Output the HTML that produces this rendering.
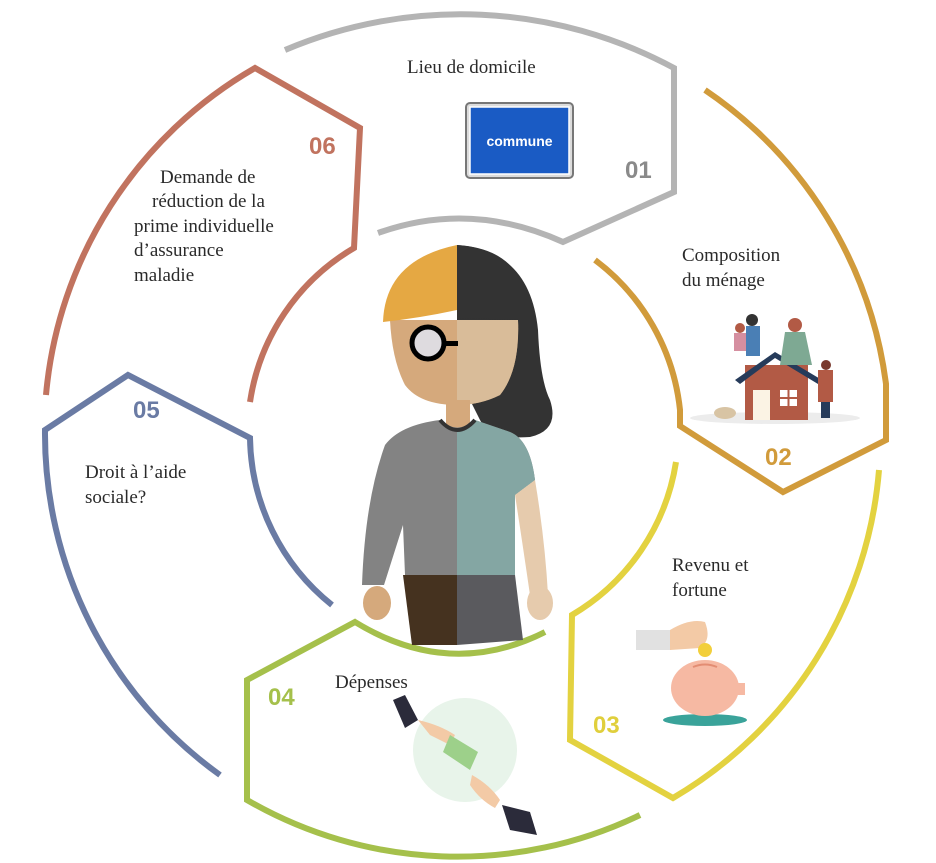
<!DOCTYPE html>
<html><head><meta charset="utf-8"><style>
html,body{margin:0;padding:0;background:#fff;}
svg{display:block;}
.t{font-family:"Liberation Serif",serif;font-size:19px;fill:#2a2a2a;}
.n{font-family:"Liberation Sans","DejaVu Sans",sans-serif;font-size:24px;font-weight:bold;}
</style></head><body>
<svg width="936" height="863" viewBox="0 0 936 863" xmlns="http://www.w3.org/2000/svg">
<g fill="none" stroke-width="6" stroke-linejoin="miter">
<path d="M285 50 A450 450 0 0 1 674 68 L674 192 L563 242 Q470 200 378 233" stroke="#b4b4b4"/>
<path d="M705 90 A420 420 0 0 1 886 384 L886 440 L783 492 L680 426 L680 410 A216 216 0 0 0 595 260" stroke="#d19b3b"/>
<path d="M879 470 A420 420 0 0 1 673 798 L570 740 L572 615 A216 216 0 0 0 676 462" stroke="#e3d240"/>
<path d="M640 815 A420 420 0 0 1 247 800 L247 680 L355 622 Q450 680 545 632" stroke="#a5c04b"/>
<path d="M220 775 A420 420 0 0 1 45 430 L128 375 L250 438 A218 218 0 0 0 332 605" stroke="#6a7ba4"/>
<path d="M46 395 A420 420 0 0 1 255 68 L360 128 L354 248 A215 215 0 0 0 250 402" stroke="#c1735f"/>
</g>

<text class="t" x="407" y="73">Lieu de domicile</text>
<text class="t" x="682" y="261">Composition</text>
<text class="t" x="682" y="286">du ménage</text>
<text class="t" x="672" y="571">Revenu et</text>
<text class="t" x="672" y="596">fortune</text>
<text class="t" x="335" y="688">Dépenses</text>
<text class="t" x="85" y="478">Droit à l’aide</text>
<text class="t" x="85" y="503">sociale?</text>
<text class="t" x="160" y="183">Demande de</text>
<text class="t" x="152" y="207">réduction de la</text>
<text class="t" x="134" y="232">prime individuelle</text>
<text class="t" x="134" y="256">d’assurance</text>
<text class="t" x="134" y="281">maladie</text>

<text class="n" x="625" y="178" fill="#8a8a8a">01</text>
<text class="n" x="765" y="465" fill="#d19b3b">02</text>
<text class="n" x="593" y="733" fill="#e0cf3c">03</text>
<text class="n" x="268" y="705" fill="#a5c04b">04</text>
<text class="n" x="133" y="418" fill="#6a7ba4">05</text>
<text class="n" x="309" y="154" fill="#c1735f">06</text>

<rect x="466" y="103" width="107" height="75" rx="4" fill="#dcdcdc" stroke="#777" stroke-width="2"/>
<rect x="470" y="107" width="99" height="67" fill="#1a5bc4" stroke="#fff" stroke-width="1.5"/>
<text x="519.5" y="146" text-anchor="middle" font-family="Liberation Sans,sans-serif" font-weight="bold" font-size="14" fill="#fff">commune</text>

<path d="M457 245 Q530 250 538 330 Q540 380 550 400 Q560 430 530 437 Q490 440 480 420 L470 400 L457 400 Z" fill="#333"/>
<path d="M390 320 L518 320 Q520 370 500 395 Q480 405 457 405 Q420 405 405 385 Q392 360 390 320 Z" fill="#d5a97c"/>
<path d="M457 320 L518 320 Q520 370 500 395 Q480 405 457 405 Z" fill="#d9bc99"/>
<path d="M457 245 L457 310 Q420 318 383 322 Q385 260 457 245 Z" fill="#e5a843"/>
<path d="M457 245 Q505 248 520 280 L520 320 L457 318 Z" fill="#333"/>
<circle cx="428" cy="343" r="16" fill="#dedbdf" stroke="#000" stroke-width="5"/>
<rect x="444" y="341" width="14" height="5" fill="#000"/>
<rect x="446" y="400" width="24" height="28" fill="#d5a97c"/>
<path d="M440 420 Q457 435 475 420 L510 432 Q530 440 535 480 L515 495 L515 575 L405 575 L403 525 L384 585 L362 585 Q365 500 385 445 Q400 425 440 420 Z" fill="#838383"/>
<path d="M457 428 Q470 428 475 420 L510 432 Q530 440 535 480 L515 495 L515 575 L457 575 Z" fill="#84a6a3"/>
<path d="M440 420 Q457 440 475 420" fill="none" stroke="#333" stroke-width="4"/>
<path d="M515 495 L535 480 Q545 540 548 595 L530 595 Q522 540 515 495 Z" fill="#e6cbad"/>
<ellipse cx="377" cy="603" rx="14" ry="17" fill="#d5a97c"/>
<ellipse cx="540" cy="603" rx="13" ry="17" fill="#e6cbad"/>
<path d="M403 575 L457 575 L457 645 L412 645 Z" fill="#45321f"/>
<path d="M457 575 L515 575 L523 640 L457 645 Z" fill="#5a5a5e"/>

<ellipse cx="775" cy="418" rx="85" ry="6" fill="#ececec"/>
<rect x="745" y="365" width="63" height="55" fill="#b25a45"/>
<polygon points="735,380 775,352 822,380 818,384 775,358 740,384" fill="#263b5a"/>
<rect x="753" y="390" width="17" height="30" fill="#fbf3e4"/>
<rect x="780" y="390" width="17" height="16" fill="#fff"/>
<path d="M788.5 390 V406 M780 398 H797" stroke="#b25a45" stroke-width="2"/>
<circle cx="740" cy="328" r="5" fill="#b25a45"/><rect x="734" y="333" width="14" height="18" fill="#d58fa0"/>
<circle cx="752" cy="320" r="6" fill="#333"/><rect x="746" y="326" width="14" height="30" fill="#4a7fb5"/>
<circle cx="795" cy="325" r="7" fill="#b25a45"/><path d="M785 332 L805 332 L812 365 L780 365 Z" fill="#7ea993"/>
<circle cx="826" cy="365" r="5" fill="#7a3a2e"/><rect x="818" y="370" width="15" height="32" fill="#b25a45"/><rect x="821" y="402" width="9" height="16" fill="#263b5a"/>
<ellipse cx="725" cy="413" rx="11" ry="6" fill="#d8c4a4"/>

<ellipse cx="705" cy="720" rx="42" ry="6" fill="#3aa39a"/>
<ellipse cx="705" cy="688" rx="34" ry="28" fill="#f6b9a3"/>
<rect x="735" y="683" width="10" height="12" fill="#f6b9a3"/>
<path d="M693 667 Q705 662 717 667" stroke="#e38d73" stroke-width="2" fill="none"/>
<rect x="636" y="630" width="35" height="20" fill="#e1e1e1"/>
<path d="M670 630 Q690 618 705 622 Q712 640 700 648 L670 650 Z" fill="#f3caa6"/>
<circle cx="705" cy="650" r="7" fill="#f2cf3b"/>

<circle cx="465" cy="750" r="52" fill="#e8f4ea"/>
<polygon points="393,700 405,695 418,720 405,728" fill="#2b2b3a"/>
<path d="M418 720 Q440 725 455 735 L450 745 L430 735 Z" fill="#f3caa6"/>
<polygon points="450,735 478,752 470,770 443,752" fill="#9dd08a"/>
<path d="M472 775 Q490 785 500 800 L495 808 Q480 800 470 785 Z" fill="#f3caa6"/>
<polygon points="502,805 530,812 537,835 510,830" fill="#2b2b3a"/>
</svg>
</body></html>
